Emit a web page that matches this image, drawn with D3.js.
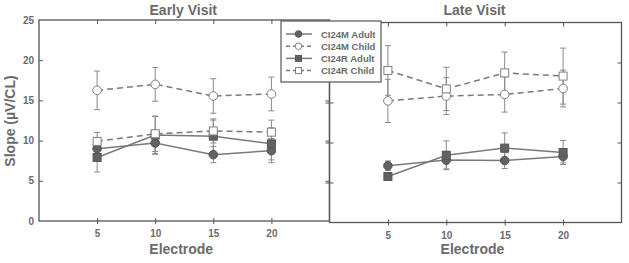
<!DOCTYPE html>
<html lang="en">
<head>
  <meta charset="UTF-8">
  <title>Slope by electrode</title>
  <script src="https://cdn.jsdelivr.net/npm/d3@7"></script>
  <style>
    body { margin: 0; background: #fff; }
    svg { display: block; font-family: "Liberation Sans", Arial, sans-serif; font-weight: bold; }
  </style>
</head>
<body>
  <svg width="629" height="263"></svg>
  <script>
    // data
    let electrodes = [5, 10, 15, 20];
    let seriesNames = ['CI24M Adult', 'CI24M Child', 'CI24R Adult', 'CI24R Child'];
    let yTicks = [0, 5, 10, 15, 20, 25];

    let earlyM_adult = [9.0, 9.7, 8.25, 8.75];
    let earlyM_adultErr = [1.0, 1.4, 1.0, 1.5];
    let earlyM_child = [16.25, 17.0, 15.55, 15.8];
    let earlyM_childErr = [2.4, 2.1, 2.15, 2.1];
    let earlyR_adult = [7.9, 10.7, 10.55, 9.6];
    let earlyR_adultErr = [1.8, 2.3, 2.0, 2.0];
    let earlyR_child = [9.9, 10.85, 11.2, 11.05];
    let earlyR_childErr = [1.1, 2.2, 1.5, 1.5];

    let lateM_adult = [7.1, 7.8, 7.75, 8.25];
    let lateM_adultErr = [0.6, 1.1, 1.0, 0.8];
    let lateM_child = [15.2, 15.8, 16.0, 16.75];
    let lateM_childErr = [2.7, 2.3, 2.2, 2.3];
    let lateR_adult = [5.75, 8.4, 9.3, 8.75];
    let lateR_adultErr = [0.5, 1.8, 1.9, 1.5];
    let lateR_child = [19.0, 16.7, 18.7, 18.3];
    let lateR_childErr = [3.1, 2.7, 2.6, 3.5];

    let panels = [
      { title: 'Early Visit', x0: 39, x1: 329.5, y0: 221, y1: 20,
        series: [[earlyM_adult, earlyM_adultErr], [earlyM_child, earlyM_childErr],
                 [earlyR_adult, earlyR_adultErr], [earlyR_child, earlyR_childErr]] },
      { title: 'Late Visit', x0: 329.5, x1: 621.5, y0: 222.5, y1: 22.5,
        series: [[lateM_adult, lateM_adultErr], [lateM_child, lateM_childErr],
                 [lateR_adult, lateR_adultErr], [lateR_child, lateR_childErr]] }
    ];

    // style per series: filled?, square?, dashed?
    let styles = [
      { filled: true, square: false, dash: null },
      { filled: false, square: false, dash: '6,4' },
      { filled: true, square: true, dash: null },
      { filled: false, square: true, dash: '6,4' }
    ];

    let frameColor = '#555';
    let lineColor = '#7a7a7a';
    let textColor = '#6b6b6b';

    let svg = d3.select('svg');

    function drawMarker(g, x, y, st) {
      let fill = st.filled ? '#626262' : '#fff';
      let stroke = st.filled ? '#555' : '#808080';
      if (st.square) {
        g.append('rect').attr('x', x - 4).attr('y', y - 4).attr('width', 8).attr('height', 8)
          .attr('fill', fill).attr('stroke', stroke).attr('stroke-width', 1);
      } else {
        g.append('circle').attr('cx', x).attr('cy', y).attr('r', 4.3)
          .attr('fill', fill).attr('stroke', stroke).attr('stroke-width', 1);
      }
    }

    panels.forEach((p, pi) => {
      let x = d3.scaleLinear().domain([0, 25]).range([p.x0, p.x1]);
      let y = d3.scaleLinear().domain([0, 25]).range([p.y0, p.y1]);
      let g = svg.append('g');

      // frame
      g.append('rect').attr('x', p.x0).attr('y', p.y1)
        .attr('width', p.x1 - p.x0).attr('height', p.y0 - p.y1)
        .attr('fill', 'none').attr('stroke', frameColor).attr('stroke-width', 1.3);

      // bottom axis (ticks crossing the line)
      let xb = g.append('g').attr('transform', 'translate(0,' + p.y0 + ')')
        .call(d3.axisBottom(x).tickValues(electrodes).tickSize(3).tickPadding(6));
      xb.select('.domain').remove();
      xb.selectAll('line').attr('y1', -3).attr('stroke', frameColor);
      xb.selectAll('text').attr('font-size', 10).attr('fill', textColor).attr('font-weight', 'bold');

      // top ticks, inward
      let xt = g.append('g').attr('transform', 'translate(0,' + p.y1 + ')')
        .call(d3.axisTop(x).tickValues(electrodes).tickSize(-4).tickFormat(''));
      xt.select('.domain').remove();
      xt.selectAll('line').attr('stroke', frameColor);

      // left ticks
      let yl = g.append('g').attr('transform', 'translate(' + p.x0 + ',0)')
        .call(d3.axisLeft(y).tickValues(yTicks.slice(1, -1)).tickSize(pi == 0 ? -4 : 4)
          .tickFormat(pi == 0 ? d3.format('d') : ''));
      yl.select('.domain').remove();
      yl.selectAll('line').attr('stroke', frameColor);
      if (pi == 1) yl.selectAll('line').attr('x1', -4).attr('x2', 4);

      // right ticks, inward
      let yr = g.append('g').attr('transform', 'translate(' + p.x1 + ',0)')
        .call(d3.axisRight(y).tickValues(yTicks.slice(1, -1)).tickSize(-4).tickFormat(''));
      yr.select('.domain').remove();
      yr.selectAll('line').attr('stroke', frameColor);

      if (pi == 0) {
        // y tick labels incl. 0 and 25
        g.selectAll('.ylab').data(yTicks).enter().append('text')
          .attr('x', p.x0 - 5).attr('y', d => y(d) + 3.5)
          .attr('text-anchor', 'end').attr('font-size', 10).attr('fill', textColor)
          .text(d => d);
        yl.selectAll('text').remove();
      }

      // titles
      g.append('text').attr('x', (p.x0 + p.x1) / 2 - 1).attr('y', 15)
        .attr('text-anchor', 'middle').attr('font-size', 14).attr('fill', textColor)
        .text(p.title);
      g.append('text').attr('x', (p.x0 + p.x1) / 2 - 3).attr('y', 254)
        .attr('text-anchor', 'middle').attr('font-size', 14).attr('fill', textColor)
        .text('Electrode');

      // error bars
      p.series.forEach((s, si) => {
        let vals = s[0], errs = s[1];
        vals.forEach((v, i) => {
          let cx = x(electrodes[i]);
          g.append('line').attr('x1', cx).attr('x2', cx)
            .attr('y1', y(v - errs[i])).attr('y2', y(v + errs[i]))
            .attr('stroke', '#8a8a8a').attr('stroke-width', 1);
          [v - errs[i], v + errs[i]].forEach(e => {
            g.append('line').attr('x1', cx - 3).attr('x2', cx + 3)
              .attr('y1', y(e)).attr('y2', y(e))
              .attr('stroke', '#8a8a8a').attr('stroke-width', 1);
          });
        });
      });

      // lines
      let line = d3.line().x((d, i) => x(electrodes[i])).y(d => y(d));
      p.series.forEach((s, si) => {
        g.append('path').datum(s[0]).attr('d', line)
          .attr('fill', 'none').attr('stroke', lineColor).attr('stroke-width', 1.5)
          .attr('stroke-dasharray', styles[si].dash);
      });

      // markers
      p.series.forEach((s, si) => {
        s[0].forEach((v, i) => drawMarker(g, x(electrodes[i]), y(v), styles[si]));
      });
    });

    // y axis label
    svg.append('text').attr('transform', 'translate(15,121) rotate(-90)')
      .attr('text-anchor', 'middle').attr('font-size', 14).attr('fill', textColor)
      .text('Slope (\u00b5V/CL)');

    // legend
    let lg = svg.append('g');
    lg.append('rect').attr('x', 281).attr('y', 21).attr('width', 100).attr('height', 61)
      .attr('fill', '#fff').attr('stroke', frameColor).attr('stroke-width', 1.2);
    seriesNames.forEach((name, i) => {
      let ly = 34 + i * 12.2;
      lg.append('line').attr('x1', 286).attr('x2', 312).attr('y1', ly).attr('y2', ly)
        .attr('stroke', lineColor).attr('stroke-width', 1.5)
        .attr('stroke-dasharray', styles[i].dash ? '4,3' : null);
      let st = Object.assign({}, styles[i]);
      let m = lg.append('g');
      drawMarker(m, 298.5, ly, st);
      m.selectAll('circle').attr('r', 3.3);
      m.selectAll('rect').attr('x', 295.5).attr('y', ly - 3).attr('width', 6).attr('height', 6);
      lg.append('text').attr('x', 321).attr('y', ly + 3.5).attr('font-size', 9.5)
        .attr('fill', textColor).text(name);
    });
  </script>
</body>
</html>
